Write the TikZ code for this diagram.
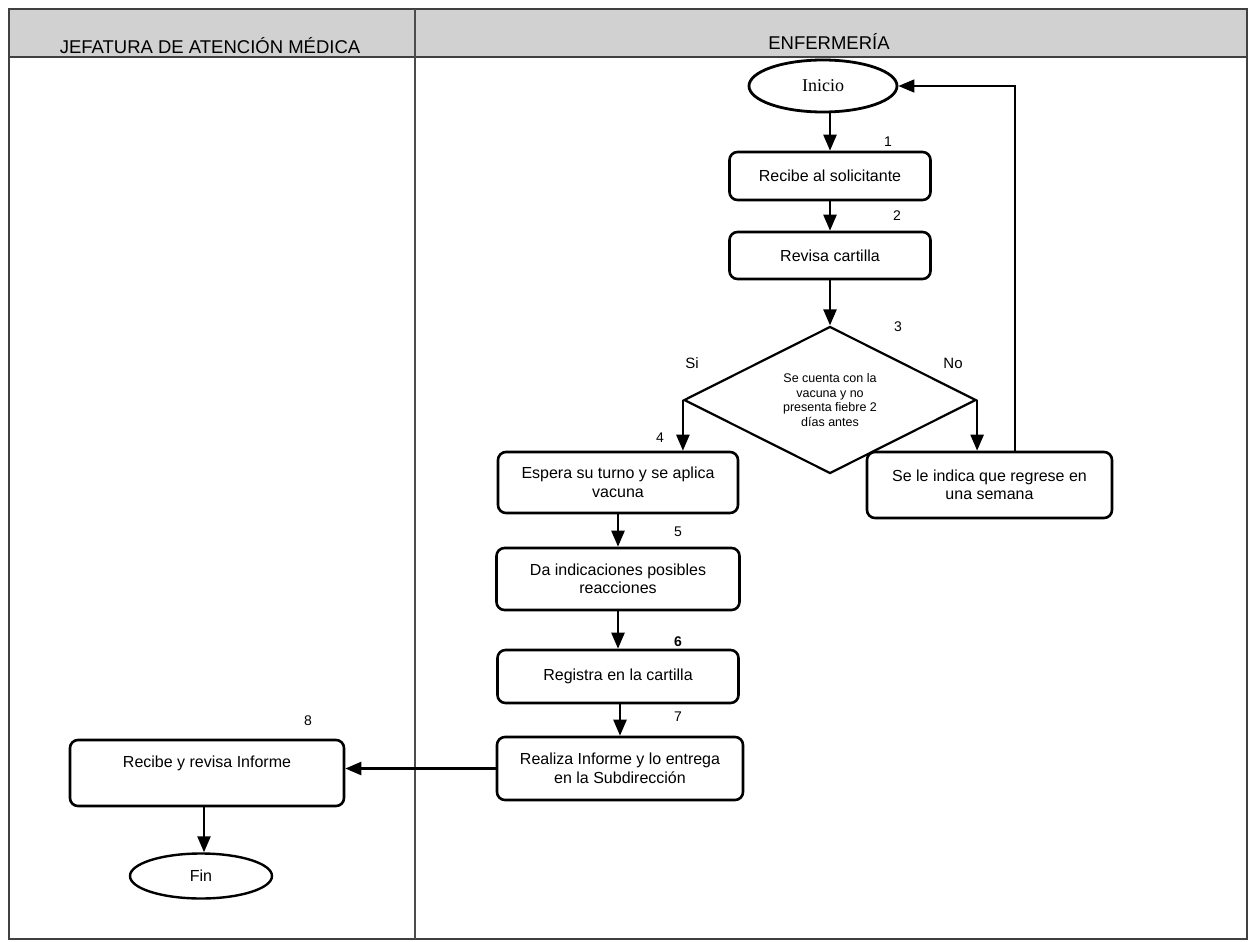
\documentclass[tikz,border=0pt]{standalone}
\usepackage{fontspec}
\setmainfont{Liberation Sans}
\newfontfamily\serifont{Liberation Serif}
\usetikzlibrary{arrows.meta,shapes.geometric}
\begin{document}
\begin{tikzpicture}[x=1pt,y=-1pt,
  box/.style={draw=black,line width=2.6pt,rounded corners=8pt,align=center,
     font=\fontsize{16}{18.5}\selectfont,inner sep=2pt},
  term/.style={draw=black,line width=2.8pt,ellipse,inner sep=0pt},
  arr/.style={line width=2.4pt,-{Triangle[length=16pt,width=13pt]}},
  lbl/.style={font=\fontsize{14}{16}\selectfont},
  hdr/.style={font=\fontsize{18.5}{20}\selectfont,anchor=base},
  frame/.style={draw=black!75,line width=1.6pt}
]
\useasboundingbox (0,0) rectangle (1250,942);
\fill[white] (0,0) rectangle (1250,942);
% table
\fill[black!18] (9,9) rectangle (1247,57);
\draw[frame] (9,9) rectangle (1247,939);
\draw[frame] (9,57) -- (1247,57);
\draw[draw=black!70,line width=1.1pt] (415,9) -- (415,939);
\node[hdr] (h1) at (210,53) {JEFATURA DE ATENCIÓN MÉDICA};
\node[hdr] (h2) at (829,50) {ENFERMERÍA};
% nodes
\node[term,minimum width=148pt,minimum height=52pt,font=\serifont\fontsize{18}{20}\selectfont] (ini) at (823,86) {Inicio};
\node[box,minimum width=201pt,minimum height=48pt] (b1) at (830,176) {Recibe al solicitante};
\node[box,minimum width=201pt,minimum height=47pt] (b2) at (830,255.5) {Revisa cartilla};
\node[draw=black,line width=2.2pt,diamond,aspect=2,inner sep=0pt,minimum width=292pt,minimum height=147pt,
  align=center,font=\fontsize{12.5}{14.5}\selectfont] (dia) at (830,400)
  {Se cuenta con la\\vacuna y no\\presenta fiebre 2\\días antes};
\node[box,minimum width=240pt,minimum height=61pt] (b4) at (618,482.5) {Espera su turno y se aplica\\vacuna};
\node[box,minimum width=245pt,minimum height=66pt] (bno) at (989.5,485) {Se le indica que regrese en\\una semana};
\node[box,minimum width=243pt,minimum height=62pt] (b5) at (618,579) {Da indicaciones posibles\\reacciones};
\node[box,minimum width=241pt,minimum height=53pt] (b6) at (618,676.5) {Registra en la cartilla};
\node[box,minimum width=246pt,minimum height=63pt] (b7) at (620,768.5) {Realiza Informe y lo entrega\\en la Subdirección};
\node[box,minimum width=274pt,minimum height=66pt] (b8) at (207,773) {};
\node[font=\fontsize{16}{18.5}\selectfont] (t8) at (207,763) {Recibe y revisa Informe};
\node[term,minimum width=142pt,minimum height=45pt,line width=2.4pt,font=\fontsize{16}{18}\selectfont] (fin) at (201,876) {Fin};
% labels
\node[lbl] (l1) at (888,142) {1};
\node[lbl] (l2) at (897,216) {2};
\node[lbl] (l3) at (898,327) {3};
\node[font=\fontsize{15}{17}\selectfont] (lsi) at (692,363) {Si};
\node[font=\fontsize{15}{17}\selectfont] (lno) at (953,363) {No};
\node[lbl] (l4) at (660,438) {4};
\node[lbl] (l5) at (678,532) {5};
\node[lbl,font=\bfseries\fontsize{14}{16}\selectfont] (l6) at (678,642) {6};
\node[lbl] (l7) at (678,717) {7};
\node[lbl] (l8) at (308,721) {8};
% connectors
\draw[arr] (ini.south -| b1.north) -- (b1.north);
\draw[arr] (b1.south) -- (b2.north);
\draw[arr] (b2.south) -- (dia.north);
\draw[arr] (dia.west) -- (dia.west |- b4.north);
\draw[arr] (dia.east) -- (dia.east |- bno.north);
\coordinate (ret) at (1015,86);
\draw[arr,line width=1.7pt] (ret |- bno.north) -- (ret) -- (ini.east);
\draw[arr] (b4.south) -- (b5.north);
\draw[arr] (b5.south) -- (b6.north);
\draw[arr] (b6.south -| b7.north) -- (b7.north);
\draw[arr] (b7.west) -- (b7.west -| b8.east);
\draw[arr] (b8.south -| 204,0) -- (fin.north -| 204,0);
\end{tikzpicture}
\end{document}
